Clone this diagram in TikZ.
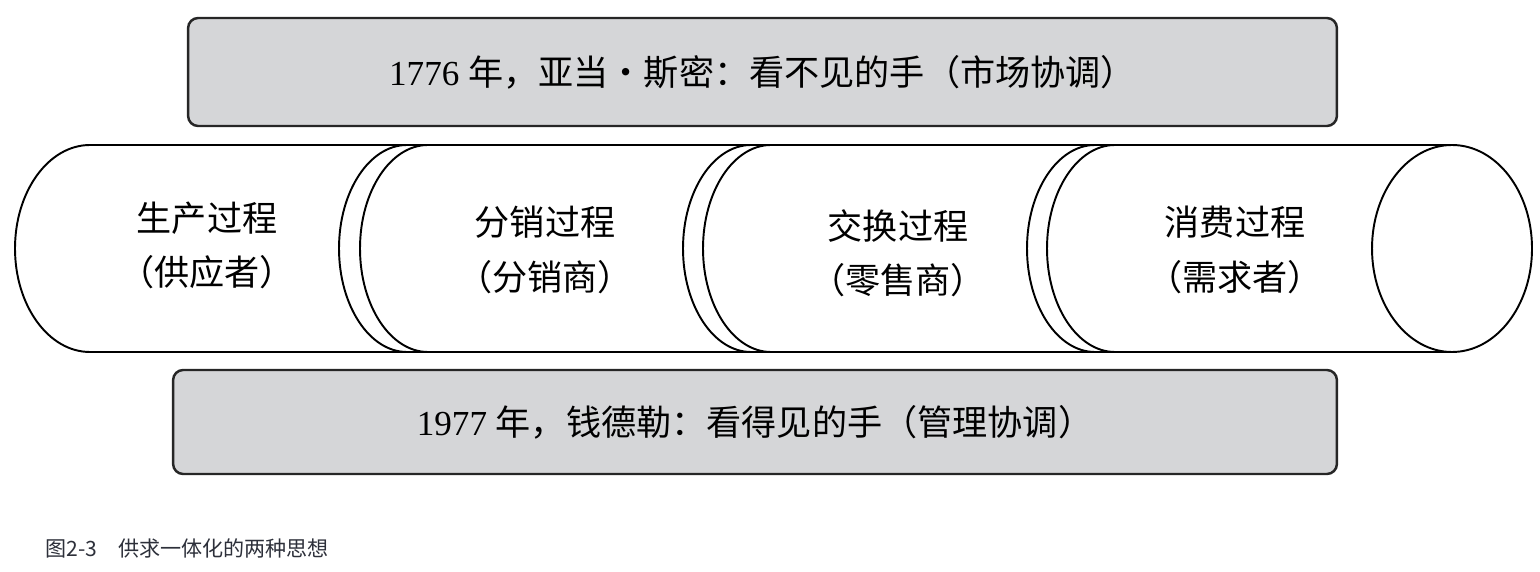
\documentclass[tikz,border=0pt]{standalone}
\usepackage{fontspec}
\setmainfont{Liberation Serif}
\newfontfamily\cjk{Noto Sans CJK SC}
\usetikzlibrary{positioning}

\definecolor{boxgray}{RGB}{213,214,216}
\definecolor{capgray}{RGB}{45,48,58}

\begin{document}
\begin{tikzpicture}[x=0.02cm, y=0.02cm,
  band/.style={draw=black!85, line width=1.4pt, fill=boxgray, rounded corners=0.2cm, font=\fontsize{20}{24}\selectfont},
  tube/.style={draw=black, line width=1.1pt},
  stage/.style={align=center, font=\cjk\fontsize{20}{31}\selectfont}]
  \useasboundingbox (0,0) rectangle (1540,571);
  \def\yT{426} \def\yB{219} \def\yM{322.5} \def\ry{103.5}
  % the two hands
  \node[band, minimum width=22.98cm, minimum height=2.16cm] (smith) at (762.5,499) {1776 {\cjk 年，亚当•斯密：看不见的手（市场协调）}};
  \node[band, minimum width=23.28cm, minimum height=2.08cm] (chandler) at (755,149) {1977 {\cjk 年，钱德勒：看得见的手（管理协调）}};
  % the tube
  \draw[tube] (90,\yT) -- (1452,\yT) (90,\yB) -- (1452,\yB);
  \draw[tube] (90,\yT) arc[start angle=90, end angle=270, x radius=75, y radius=\ry];
  \foreach \cx in {407,428,751,771,1095,1115}{
    \draw[tube] (\cx,\yT) arc[start angle=90, end angle=270, x radius=68, y radius=\ry];
  }
  \draw[tube] (1452,\yM) ellipse[x radius=80, y radius=\ry];
  % stages
  \foreach \x/\y/\nm/\a/\b in {207/325.5/supply/生产过程/供应者, 545/321/distrib/分销过程/分销商, 898/317.5/retail/交换过程/零售商, 1235/321/demand/消费过程/需求者}{
    \node[stage] (\nm) at (\x,\y) {\a\\（\b）};
  }
  \node[anchor=west, inner sep=0pt, text=capgray, font=\cjk\fontsize{12}{14}\selectfont] (caption) at (45,23) {图2-3\quad 供求一体化的两种思想};
\end{tikzpicture}
\end{document}
